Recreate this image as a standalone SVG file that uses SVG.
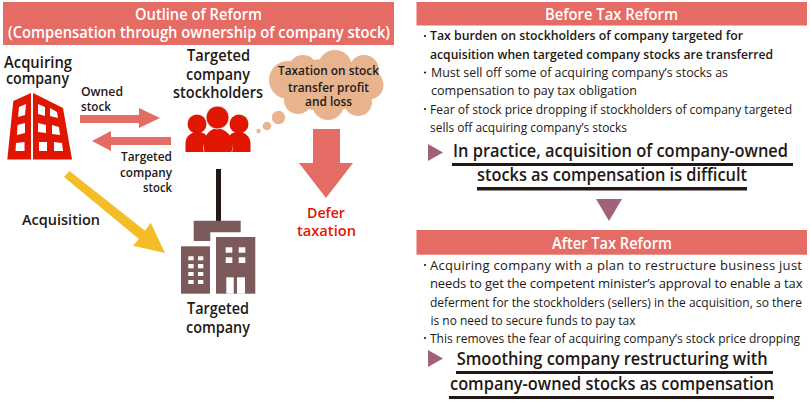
<svg xmlns="http://www.w3.org/2000/svg" width="810" height="402" viewBox="0 0 810 402">
<style>
text{font-family:"Open Sans","Noto Sans","Liberation Sans",sans-serif;fill:#231815}
.b{font-weight:600}
.h{font-weight:600;fill:#fff;font-size:16px}
.l{font-size:15px;font-weight:600}
.m{font-size:13px;font-weight:600}
.s{font-size:13px}
.g{font-size:18px;font-weight:600}
.r{fill:#e46c64}
.w{fill:#fff}
.u{fill:#231815}
.p{fill:#a3607c}
.br{fill:#7c5a5c}
.red{fill:#e01600}
</style>
<rect width="810" height="402" fill="#fff"/>
<g id="outline-banner">
<rect class="r" x="3" y="2" width="391" height="43"/>
<text class="h" x="135" y="19.5" textLength="127" lengthAdjust="spacingAndGlyphs">Outline of Reform</text>
<text class="h" x="8" y="38" textLength="382" lengthAdjust="spacingAndGlyphs">(Compensation through ownership of company stock)</text>
</g>
<g id="connectors">
<polygon class="r" points="80,115 139,115 139,108 160,118 139,128 139,123 80,123"/>
<polygon class="r" points="92,141 111,131 111,137 171,137 171,145 111,145 111,151"/>
<polygon fill="#f4bc26" points="64,177 69.500,171 145,230.700 150.700,222.700 165,253 133,245.700 139,239"/>
<rect x="216" y="169" width="5" height="52" fill="#231815"/>
<polygon class="r" points="313,129 340,129 340,163 353,163 326,198 299,163 313,163"/>
</g>
<g id="acquiring-company">
<text class="l" x="4" y="68" font-size="17" style="font-size:17px" textLength="68" lengthAdjust="spacingAndGlyphs">Acquiring</text>
<text class="l" x="6" y="84" style="font-size:17px" textLength="63" lengthAdjust="spacingAndGlyphs">company</text>
<polygon class="red" points="13.300,101 31,93 31,159.500 7.300,159.500"/>
<polygon class="red" points="33,93 63,108 72,159.500 33,159.500"/>
<g class="w">
<polygon points="19,107 26,104 25,115 18,117"/>
<polygon points="17.500,125 25,123 25,133 17,135"/>
<polygon points="16,143 24.500,142 24.500,151 15.500,151"/>
<polygon points="38,104 45,107 45,116 38,114"/>
<polygon points="50,108 57,112 58,118 50,116"/>
<polygon points="38,123 46,125 46,133 38,132"/>
<polygon points="52,125 59,127 60,135 52,134"/>
<polygon points="39,142 47,142 47,151 39,151"/>
<polygon points="54,142 62,143 63,151 54,151"/>
</g>
</g>
<g id="targeted-company-stockholders">
<text class="l" x="187" y="61" style="font-size:17px" textLength="63" lengthAdjust="spacingAndGlyphs">Targeted</text>
<text class="l" x="186" y="80" style="font-size:17px" textLength="64" lengthAdjust="spacingAndGlyphs">company</text>
<text class="l" x="173" y="98" style="font-size:17px" textLength="90" lengthAdjust="spacingAndGlyphs">stockholders</text>
<path class="red" d="M185.500,152 V143 C186,136 191,132 197,132 C203,132 206,134 208,138 C204,142 202,147 204,152 Z"/>
<path class="red" d="M250.500,152 V143 C250,136 245,132 239,132 C233,132 230,134 228,138 C232,142 234,147 232,152 Z"/>
<path class="red" d="M204.500,152 C202,143 205,130 217,128 C231,130 235,143 231.500,152 Z"/>
<circle class="red" cx="197" cy="124" r="9.500"/>
<circle class="red" cx="239" cy="124" r="9.500"/>
<circle class="red" cx="217.500" cy="117.500" r="11.500" stroke="#fff" stroke-width="0.800"/>
</g>
<g id="thought-bubble" fill="#e8b48f">
<circle cx="278.500" cy="117.500" r="6.700"/>
<circle cx="267" cy="126" r="4.300"/>
<circle cx="258.500" cy="131" r="2.200"/>
<ellipse cx="326" cy="85" rx="48" ry="26"/>
<circle cx="288" cy="80" r="19"/>
<circle cx="303" cy="70" r="15"/>
<circle cx="335" cy="67" r="17"/>
<circle cx="364" cy="70" r="15"/>
<circle cx="369" cy="85" r="14.500"/>
<circle cx="358" cy="102" r="14"/>
<circle cx="328" cy="104" r="16"/>
<circle cx="298" cy="100" r="14"/>
<text class="m" x="278" y="75" textLength="101" lengthAdjust="spacingAndGlyphs">Taxation on stock</text>
<text class="m" x="288" y="91.500" textLength="81" lengthAdjust="spacingAndGlyphs">transfer profit</text>
<text class="m" x="305" y="106" textLength="47" lengthAdjust="spacingAndGlyphs">and loss</text>
</g>
<g id="owned-stock-label">
<text class="m" x="81" y="96" textLength="42" lengthAdjust="spacingAndGlyphs">Owned</text>
<text class="m" x="81" y="111" textLength="30" lengthAdjust="spacingAndGlyphs">stock</text>
</g>
<g id="targeted-stock-label">
<text class="m" x="121" y="161" textLength="51" lengthAdjust="spacingAndGlyphs">Targeted</text>
<text class="m" x="120" y="177" textLength="52" lengthAdjust="spacingAndGlyphs">company</text>
<text class="m" x="143" y="191.500" textLength="29" lengthAdjust="spacingAndGlyphs">stock</text>
</g>
<g id="acquisition-label">
<text class="l" x="22" y="225" textLength="78" lengthAdjust="spacingAndGlyphs">Acquisition</text>
</g>
<g id="defer-taxation">
<text class="l" x="307" y="218" style="fill:#e01600" textLength="38" lengthAdjust="spacingAndGlyphs">Defer</text>
<text class="l" x="297" y="236" style="fill:#e01600" textLength="59" lengthAdjust="spacingAndGlyphs">taxation</text>
</g>
<g id="targeted-company">
<polygon class="br" points="193.700,220.700 240.700,220.700 240.700,232.300 210.300,232.300 210.300,241 193.700,241"/>
<rect class="br" x="181" y="246.300" width="29" height="47.400"/>
<rect class="br" x="216" y="237" width="39.300" height="56.700"/>
<g class="w">
<rect x="188.300" y="256.300" width="5.300" height="4"/><rect x="198" y="256.300" width="5.300" height="4"/>
<rect x="188.300" y="264" width="5.300" height="4.300"/><rect x="198" y="264" width="5.300" height="4.300"/>
<rect x="188.300" y="272" width="5.300" height="4"/><rect x="198" y="272" width="5.300" height="4"/>
<rect x="188.300" y="280" width="5.300" height="4"/><rect x="198" y="280" width="5.300" height="4"/>
<rect x="225.700" y="247.300" width="6.600" height="5.400"/><rect x="238.700" y="247.300" width="6.600" height="5.400"/>
<rect x="225.700" y="257.300" width="6.600" height="5.700"/><rect x="238.700" y="257.300" width="6.600" height="5.700"/>
<rect x="226.300" y="277.300" width="7.400" height="16.400"/><rect x="237" y="277.300" width="8" height="16.400"/>
</g>
<text class="l" x="187" y="314" style="font-size:17px" textLength="62" lengthAdjust="spacingAndGlyphs">Targeted</text>
<text class="l" x="186" y="333" style="font-size:17px" textLength="64" lengthAdjust="spacingAndGlyphs">company</text>
</g>
<g id="before-tax-reform">
<rect class="r" x="416.500" y="2" width="390.500" height="23.500"/>
<text class="h" x="545" y="19.500" textLength="133" lengthAdjust="spacingAndGlyphs">Before Tax Reform</text>
<circle class="u" cx="425" cy="36" r="1.100"/>
<circle class="u" cx="425" cy="72.500" r="1.100"/>
<circle class="u" cx="425" cy="109" r="1.100"/>
<text class="m" x="430" y="40" textLength="313" lengthAdjust="spacingAndGlyphs">Tax burden on stockholders of  company targeted for</text>
<text class="m" x="430" y="58.500" textLength="343" lengthAdjust="spacingAndGlyphs">acquisition when targeted company stocks are transferred</text>
<text class="s" x="431" y="77" textLength="297" lengthAdjust="spacingAndGlyphs">Must sell off some of acquiring company’s stocks as</text>
<text class="s" x="431" y="95" textLength="206" lengthAdjust="spacingAndGlyphs">compensation to pay tax obligation</text>
<text class="s" x="430" y="114" textLength="362" lengthAdjust="spacingAndGlyphs">Fear of stock price dropping if stockholders of company targeted</text>
<text class="s" x="430" y="132" textLength="197" lengthAdjust="spacingAndGlyphs">sells off acquiring company’s stocks</text>
<polygon class="p" points="428,144 443,152.500 428,161"/>
<text class="g" x="453" y="157" textLength="335" lengthAdjust="spacingAndGlyphs">In practice, acquisition of company-owned</text>
<rect class="u" x="452" y="163" width="341" height="3"/>
<text class="g" x="477" y="181" textLength="270" lengthAdjust="spacingAndGlyphs">stocks as compensation is difficult</text>
<rect class="u" x="477" y="187" width="270" height="3.500"/>
</g>
<g id="flow-triangle">
<polygon class="p" points="596,199 622,199 609,221"/>
</g>
<g id="after-tax-reform">
<rect class="r" x="416.500" y="230" width="390.500" height="24.700"/>
<text class="h" x="552" y="248.500" textLength="120" lengthAdjust="spacingAndGlyphs">After Tax Reform</text>
<circle class="u" cx="425" cy="265" r="1.100"/>
<circle class="u" cx="425" cy="338" r="1.100"/>
<text class="s" x="430" y="269.500" textLength="372" lengthAdjust="spacing">Acquiring company with a plan to restructure business just</text>
<text class="s" x="430" y="288" textLength="372.500" lengthAdjust="spacing">needs to get the competent minister’s approval to enable a tax</text>
<text class="s" x="430" y="306.500" textLength="372" lengthAdjust="spacingAndGlyphs">deferment for the stockholders (sellers) in the acquisition, so there</text>
<text class="s" x="430.500" y="324.500" textLength="205" lengthAdjust="spacingAndGlyphs">is no need to secure funds to pay tax</text>
<text class="s" x="430" y="343" textLength="370" lengthAdjust="spacingAndGlyphs">This removes the fear of acquiring company’s stock price dropping</text>
<polygon class="p" points="428,350 443,358.500 428,367"/>
<text class="g" x="456.700" y="365" textLength="311" lengthAdjust="spacingAndGlyphs">Smoothing company restructuring with</text>
<rect class="u" x="456" y="371" width="317" height="3"/>
<text class="g" x="450" y="390" textLength="324" lengthAdjust="spacingAndGlyphs">company-owned stocks as compensation</text>
<rect class="u" x="449" y="396" width="325" height="3"/>
</g>
</svg>
